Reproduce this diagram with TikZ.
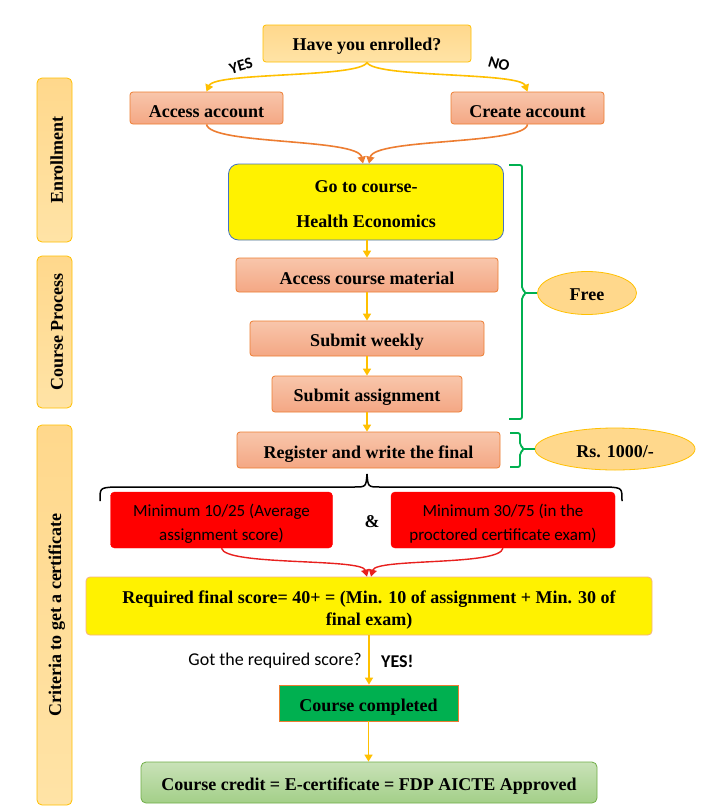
\documentclass[tikz,border=0pt]{standalone}
\usepackage{fontspec}
\setmainfont{Liberation Serif}
\newfontfamily\calib{Carlito}
\usetikzlibrary{arrows.meta,shapes.geometric}
\definecolor{peachT}{HTML}{F8C6AB}
\definecolor{peachB}{HTML}{F4A784}
\definecolor{peachD}{HTML}{ED7D31}
\definecolor{goldT}{HTML}{FFD88C}
\definecolor{goldB}{HTML}{FFE3A6}
\definecolor{goldD}{HTML}{FFC000}
\definecolor{yelarr}{HTML}{FFC000}
\definecolor{orarr}{HTML}{ED7D31}
\definecolor{grn}{HTML}{00B050}
\definecolor{lgT}{HTML}{C9E2B8}
\definecolor{lgB}{HTML}{A3CF88}
\definecolor{lgD}{HTML}{70AD47}
\definecolor{blueD}{HTML}{4472C4}
\definecolor{redArr}{HTML}{E8201E}
\definecolor{reqD}{HTML}{F4B183}
\newcommand\upstrut[1]{\rule{0pt}{#1}}
\begin{document}
\begin{tikzpicture}[x=1pt,y=-1pt,
  every node/.style={font=\fontsize{18}{21}\selectfont\bfseries, inner sep=0pt, align=center},
  dn/.style={execute at begin node={\rule{0pt}{#1}}},
  peach/.style={draw=peachD, top color=peachT, bottom color=peachB, rounded corners=3, line width=0.8},
  gold/.style={draw=goldD, top color=goldT, bottom color=goldB, rounded corners=3, line width=0.8},
  sidebox/.style={gold, rounded corners=5, rotate=90, minimum height=35, dn=17pt},
  oval/.style={ellipse, draw=goldD, fill=goldT, line width=0.8},
  redbox/.style={draw=red, fill=red, rounded corners=4, font=\calib\fontsize{17}{24}\selectfont, minimum width=222, minimum height=56},
  yarr/.style={draw=yelarr, line width=1.6, -{Triangle[length=7,width=8]}},
  oarr/.style={draw=orarr, line width=1.6, -{Triangle[length=7,width=8]}},
  rarr/.style={draw=redArr, line width=1.4, -{Triangle[length=7,width=8]}},
  gbrace/.style={draw=grn, line width=1.8, rounded corners=2},
  yn/.style={font=\calib\bfseries\fontsize{16}{18}\selectfont},
]
\useasboundingbox[fill=white] (0,0) rectangle (707,811);

% side labels
\node[sidebox, minimum width=164] (s1) at (54.5,160) {Enrollment};
\node[sidebox, minimum width=152] (s2) at (54.5,332) {Course Process};
\node[sidebox, minimum width=380] (s3) at (54.5,615) {Criteria to get a certificate};

% top
\node[gold, minimum width=208, minimum height=37, dn=18.4pt] (q) at (367,43.5) {Have you enrolled?};
\node[peach, minimum width=153, minimum height=32, dn=19.2pt] (acc) at (206.5,108) {Access account};
\node[peach, minimum width=153, minimum height=32, dn=19.2pt] (cre) at (527.5,108) {Create account};
\node[yn, rotate=16] (yes) at (241,66) {YES};
\node[yn, rotate=-16] (no) at (499,64) {NO};

\node[draw=blueD, fill=yellow, rounded corners=10, line width=0.8, minimum width=275, minimum height=76,
      font=\fontsize{18}{35}\selectfont\bfseries] (go) at (366,202) {\upstrut{15.5pt}Go to course-\\Health Economics};
\node[peach, minimum width=262, minimum height=34, dn=18.4pt] (acm) at (367,275) {Access course material};
\node[peach, minimum width=234, minimum height=35, dn=20pt] (sw) at (367,338.5) {Submit weekly};
\node[peach, minimum width=190, minimum height=36, dn=18.4pt] (sa) at (367,394) {Submit assignment};
\node[peach, minimum width=263, minimum height=36, dn=20pt] (reg) at (368.5,450) {Register and write the final};

\node[oval, minimum width=99, minimum height=43, dn=14.4pt] (free) at (587,293) {Free};
\node[oval, minimum width=160, minimum height=42, dn=18pt] (rs) at (615,449) {Rs. 1000/-};

\node[redbox] (m1) at (221.5,520) {\upstrut{20.5pt}Minimum 10/25 (Average\\assignment score)};
\node[redbox, minimum width=224] (m2) at (503,520) {\upstrut{20.5pt}Minimum 30/75 (in the\\proctored certificate exam)};
\node (amp) at (372,522) {\&};

\node[draw=reqD, fill=yellow, rounded corners=4, line width=0.8, minimum width=566, minimum height=58,
      font=\fontsize{18}{22}\selectfont\bfseries] (req) at (369,606)
      {\upstrut{21pt}Required final score= 40+ = (Min. 10 of assignment + Min. 30 of\\final exam)};

\node[font=\calib\fontsize{18}{20}\selectfont, anchor=east] (got) at (362,661) {Got the required score?};
\node[font=\calib\bfseries\fontsize{18}{20}\selectfont, anchor=west] (yes2) at (381,661) {YES!};

\node[draw=peachD, fill=grn, line width=0.8, minimum width=179, minimum height=36, dn=20pt] (cc) at (368.5,703) {Course completed};
\node[draw=lgD, top color=lgT, bottom color=lgB, rounded corners=5, line width=0.8, minimum width=456, minimum height=41, dn=20pt] (cred) at (369,782.5)
      {Course credit = E-certificate = FDP AICTE Approved};

% connectors
\draw[yarr] (q.south) .. controls (360,78) and (215,72) .. (acc.north);
\draw[yarr] (q.south) .. controls (374,78) and (520,72) .. (cre.north);
\draw[oarr] (acc.south) .. controls (210,145) and (358,138) .. ([xshift=-3pt]go.north);
\draw[oarr] (cre.south) .. controls (525,145) and (374,138) .. ([xshift=3pt]go.north);

\draw[yarr] (acm.north |- go.south) -- (acm.north);
\draw[yarr] (acm.south) -- (sw.north);
\draw[yarr] (sw.south) -- (sa.north);
\draw[yarr] (sa.south) -- (sa.south |- reg.north);

\draw[rarr] (m1.south) .. controls (225,566) and (362,558) .. ([xshift=-2pt]req.north);
\draw[rarr] (m2.south) .. controls (500,566) and (376,558) .. ([xshift=2pt]req.north);

\draw[yarr] (req.south) -- (req.south |- cc.north);
\draw[yarr] (cc.south) -- (cc.south |- cred.north);

% green braces
\draw[gbrace] (509,165) -- (522,165) -- (522,289) -- (526,293) -- (522,297) -- (522,419) -- (509,419);
\coordinate (b1) at (525,293);
\draw[draw=grn, line width=1.8] (b1) -- (free.west);
\draw[gbrace] (510,433) -- (520,433) -- (520,445) -- (524,449) -- (520,453) -- (520,467) -- (510,467);
\coordinate (b2) at (523,449);
\draw[draw=grn, line width=1.8] (b2) -- (rs.west);

% black brace
\draw[line width=1.5] (100,501) .. controls (100,488) .. (113,487) -- (354,487)
  .. controls (366,487) .. (367,474) .. controls (368,487) .. (380,487) -- (609,487)
  .. controls (622,488) .. (622,501);
\end{tikzpicture}
\end{document}
